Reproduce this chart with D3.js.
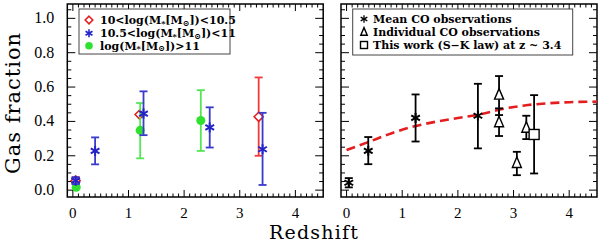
<!DOCTYPE html>
<html>
<head>
<meta charset="utf-8">
<script src="https://cdn.jsdelivr.net/npm/d3@7"></script>
<style>
  body { margin: 0; background: #fff; }
  svg { display: block; }
</style>
</head>
<body>
<svg id="chart" width="600" height="244"></svg>
<script>
// Left panel: gas fraction per stellar-mass bin
const lowZ = [0.05, 1.2, 3.34];
const lowF = [0.055, 0.44, 0.427];
const lowLo = [0.035, 0.44, 0.2];
const lowHi = [0.075, 0.44, 0.656];

const midZ = [0.05, 0.40, 1.27, 2.46, 3.41];
const midF = [0.055, 0.228, 0.446, 0.365, 0.238];
const midLo = [0.035, 0.15, 0.32, 0.248, 0.03];
const midHi = [0.075, 0.307, 0.575, 0.482, 0.45];

const highZ = [0.06, 1.21, 2.3];
const highF = [0.017, 0.348, 0.405];
const highLo = [0.017, 0.185, 0.228];
const highHi = [0.017, 0.507, 0.582];

// Right panel: CO observations and this work
const meanZ = [0.04, 0.39, 1.24, 2.36];
const meanF = [0.043, 0.229, 0.42, 0.433];
const meanLo = [0.016, 0.151, 0.283, 0.243];
const meanHi = [0.07, 0.309, 0.557, 0.619];

const indivZ = [2.74, 2.74, 3.06, 3.23];
const indivF = [0.553, 0.392, 0.155, 0.36];
const indivLo = [0.437, 0.315, 0.087, 0.297];
const indivHi = [0.664, 0.476, 0.223, 0.433];

const workZ = [3.37];
const workF = [0.324];
const workLo = [0.097];
const workHi = [0.553];

// dashed model curve
const modelZ = [0, 0.4, 0.8, 1.2, 1.6, 2.0, 2.4, 2.8, 3.2, 3.6, 4.0, 4.5];
const modelF = [0.233, 0.281, 0.33, 0.37, 0.398, 0.42, 0.442, 0.472, 0.493, 0.505, 0.512, 0.515];

const xTicks = [0, 1, 2, 3, 4];
const yTicks = [0.0, 0.2, 0.4, 0.6, 0.8, 1.0];
const leftLegend = ["10<log(M", "10.5<log(M", "log(M"];
const leftLegendEnd = ["])<10.5", "])<11", "])>11"];
const rightLegend = ["Mean CO observations", "Individual CO observations", "This work (S\u2212K law) at z ~ 3.4"];

const zip = (z, f, lo, hi) => z.map((d, i) => ({ z: d, f: f[i], lo: lo[i], hi: hi[i] }));

const svg = d3.select("#chart");
const plotTop = 4, plotBottom = 197;
const y = d3.scaleLinear().domain([-0.04, 1.0835]).range([plotBottom, plotTop]);

const tickFont = "'Liberation Serif', serif";
const legendFont = "'DejaVu Serif', serif";

function panel(x0, x1, showYLabels) {
  const x = d3.scaleLinear().domain([-0.1, 4.5]).range([x0, x1]);
  const g = svg.append("g");

  // ticks on all four sides
  const xMinor = d3.range(0, 45).map(i => i / 10).filter(v => v % 1 !== 0);
  const yMinor = d3.range(0, 22).map(i => i * 0.05).filter(v => Math.abs(v / 0.2 - Math.round(v / 0.2)) > 1e-6);
  const tk = g.append("g").attr("stroke", "#000").attr("stroke-width", 1);
  xTicks.forEach(v => {
    tk.append("line").attr("x1", x(v)).attr("x2", x(v)).attr("y1", plotBottom).attr("y2", plotBottom - 7);
    tk.append("line").attr("x1", x(v)).attr("x2", x(v)).attr("y1", plotTop).attr("y2", plotTop + 7);
  });
  xMinor.forEach(v => {
    tk.append("line").attr("x1", x(v)).attr("x2", x(v)).attr("y1", plotBottom).attr("y2", plotBottom - 3.5);
    tk.append("line").attr("x1", x(v)).attr("x2", x(v)).attr("y1", plotTop).attr("y2", plotTop + 3.5);
  });
  yTicks.forEach(v => {
    tk.append("line").attr("x1", x0).attr("x2", x0 + 8).attr("y1", y(v)).attr("y2", y(v));
    tk.append("line").attr("x1", x1).attr("x2", x1 - 8).attr("y1", y(v)).attr("y2", y(v));
  });
  yMinor.forEach(v => {
    tk.append("line").attr("x1", x0).attr("x2", x0 + 4).attr("y1", y(v)).attr("y2", y(v));
    tk.append("line").attr("x1", x1).attr("x2", x1 - 4).attr("y1", y(v)).attr("y2", y(v));
  });

  g.append("rect").attr("x", x0).attr("y", plotTop).attr("width", x1 - x0).attr("height", plotBottom - plotTop)
    .attr("fill", "none").attr("stroke", "#000").attr("stroke-width", 1.5);

  g.selectAll("text.xt").data(xTicks).enter().append("text")
    .attr("x", d => x(d)).attr("y", 218)
    .attr("text-anchor", "middle")
    .style("font-family", tickFont).style("font-size", "15px")
    .text(d => d);

  if (showYLabels) {
    g.selectAll("text.yt").data(yTicks).enter().append("text")
      .attr("x", x0 - 13).attr("y", d => y(d) + 5)
      .attr("text-anchor", "end")
      .style("font-family", tickFont).style("font-size", "16px")
      .text(d => d.toFixed(1));
  }
  return { g, x };
}

function errorBars(g, x, data, color) {
  const eb = g.append("g").attr("stroke", color).attr("stroke-width", 1.8).attr("fill", "none");
  data.filter(d => d.hi > d.lo).forEach(d => {
    eb.append("line").attr("x1", x(d.z)).attr("x2", x(d.z)).attr("y1", y(d.lo)).attr("y2", y(d.hi));
    eb.append("line").attr("x1", x(d.z) - 4).attr("x2", x(d.z) + 4).attr("y1", y(d.lo)).attr("y2", y(d.lo));
    eb.append("line").attr("x1", x(d.z) - 4).attr("x2", x(d.z) + 4).attr("y1", y(d.hi)).attr("y2", y(d.hi));
  });
}

function asterisk(g, cx, cy, r, color, w) {
  const a = Math.PI / 6;
  [[0, 1], [Math.cos(a), Math.sin(a)], [Math.cos(a), -Math.sin(a)]].forEach(([dx, dy]) => {
    g.append("line").attr("x1", cx - dx * r).attr("x2", cx + dx * r)
      .attr("y1", cy - dy * r).attr("y2", cy + dy * r)
      .attr("stroke", color).attr("stroke-width", w);
  });
}
function diamond(g, cx, cy, r, color) {
  g.append("path").attr("d", `M${cx},${cy - r}L${cx + r},${cy}L${cx},${cy + r}L${cx - r},${cy}Z`)
    .attr("fill", "#fff").attr("stroke", color).attr("stroke-width", 1.6);
}
function triangle(g, cx, cy, r, color) {
  g.append("path").attr("d", `M${cx},${cy - r * 1.3}L${cx + r * 0.9},${cy + r * 0.8}L${cx - r * 0.9},${cy + r * 0.8}Z`)
    .attr("fill", "#fff").attr("stroke", color).attr("stroke-width", 1.4);
}
function square(g, cx, cy, r, color) {
  g.append("rect").attr("x", cx - r).attr("y", cy - r).attr("width", 2 * r).attr("height", 2 * r)
    .attr("fill", "#fff").attr("stroke", color).attr("stroke-width", 1.4);
}

const red = "#e41e1e", blue = "#2323c8", green = "#2fe02f";

// ---------- left panel ----------
const L = panel(67.3, 323.2, true);
const low = zip(lowZ, lowF, lowLo, lowHi);
const mid = zip(midZ, midF, midLo, midHi);
const high = zip(highZ, highF, highLo, highHi);
errorBars(L.g, L.x, low, "#f03a3a");
low.forEach(d => diamond(L.g, L.x(d.z), y(d.f), 4.5, red));
errorBars(L.g, L.x, high, "#55e655");
high.forEach(d => L.g.append("circle").attr("cx", L.x(d.z)).attr("cy", y(d.f)).attr("r", 4.5).attr("fill", green));
errorBars(L.g, L.x, mid, "#3a3acc");
mid.forEach(d => asterisk(L.g, L.x(d.z), y(d.f), 5, blue, 2));

// left legend
const lg = svg.append("g");
lg.append("rect").attr("x", 79).attr("y", 9).attr("width", 151).attr("height", 45)
  .attr("fill", "#fff").attr("stroke", "#444").attr("stroke-width", 1);
const legRows = [20, 33.3, 45.7];
diamond(lg, 89, legRows[0], 3.8, red);
asterisk(lg, 89, legRows[1], 4, blue, 1.6);
lg.append("circle").attr("cx", 89).attr("cy", legRows[2]).attr("r", 3.8).attr("fill", green);
leftLegend.forEach((s, i) => {
  const t = lg.append("text").attr("x", 100).attr("y", legRows[i] + 4)
    .style("font-family", legendFont).style("font-weight", "bold").style("font-size", "11px");
  t.append("tspan").text(s);
  t.append("tspan").attr("dy", 1.5).style("font-size", "8px").text("*");
  t.append("tspan").attr("dy", -1.5).text("[M");
  t.append("tspan").attr("dy", 1.5).style("font-size", "8px").text("\u2299");
  t.append("tspan").attr("dy", -1.5).text(leftLegendEnd[i]);
});

// ---------- right panel ----------
const R = panel(341, 597, false);
const line = d3.line().x((d, i) => R.x(modelZ[i])).y(d => y(d)).curve(d3.curveMonotoneX);
R.g.append("path").attr("d", line(modelF))
  .attr("fill", "none").attr("stroke", "#e41e1e").attr("stroke-width", 2.6)
  .attr("stroke-dasharray", "9,5");

const mean = zip(meanZ, meanF, meanLo, meanHi);
const indiv = zip(indivZ, indivF, indivLo, indivHi);
const work = zip(workZ, workF, workLo, workHi);
errorBars(R.g, R.x, mean, "#000");
errorBars(R.g, R.x, indiv, "#000");
errorBars(R.g, R.x, work, "#000");
mean.forEach(d => asterisk(R.g, R.x(d.z), y(d.f), 5, "#000", 2));
indiv.forEach(d => triangle(R.g, R.x(d.z), y(d.f), 5, "#000"));
work.forEach(d => square(R.g, R.x(d.z), y(d.f), 5, "#000"));

// right legend
const rg = svg.append("g");
rg.append("rect").attr("x", 352.7).attr("y", 9).attr("width", 220).attr("height", 46)
  .attr("fill", "#fff").attr("stroke", "#444").attr("stroke-width", 1);
const rRows = [19, 32.3, 45];
asterisk(rg, 364, rRows[0], 3.8, "#000", 1.3);
triangle(rg, 364, rRows[1], 3.6, "#000");
square(rg, 364, rRows[2], 3.5, "#000");
rightLegend.forEach((s, i) => {
  rg.append("text").attr("x", 373).attr("y", rRows[i] + 4)
    .style("font-family", legendFont).style("font-weight", "bold").style("font-size", "11px")
    .text(s);
});

// axis titles
svg.append("text").attr("x", 314).attr("y", 239.2).attr("text-anchor", "middle")
  .style("font-family", "'DejaVu Serif', serif").style("font-size", "19px").style("letter-spacing", "1.2px")
  .text("Redshift");
svg.append("text").attr("transform", "translate(20,103) rotate(-90)").attr("text-anchor", "middle")
  .style("font-family", "'DejaVu Serif', serif").style("font-size", "21px").style("letter-spacing", "1px")
  .text("Gas fraction");
</script>
</body>
</html>
